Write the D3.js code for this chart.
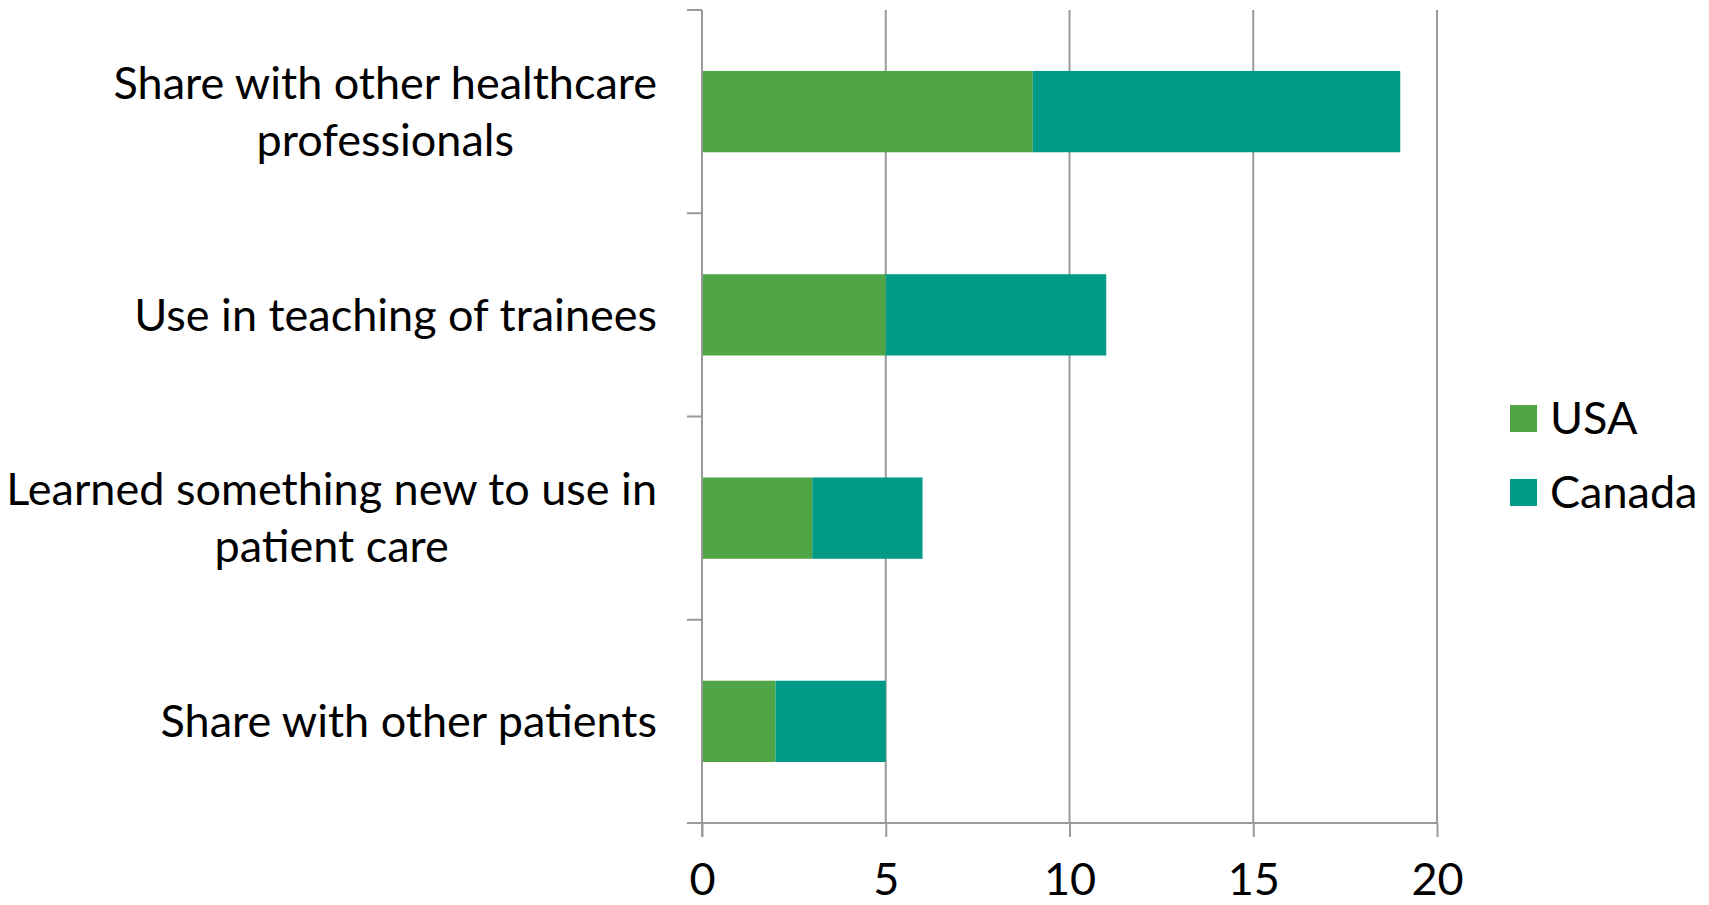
<!DOCTYPE html>
<html><head><meta charset="utf-8">
<script src="https://cdn.jsdelivr.net/npm/d3@7"></script>
<style>body{margin:0;background:#fff}svg{display:block}</style>
</head><body>
<svg id="chart" width="1709" height="905"></svg>
<script>
const categories = ["Share with other healthcare\nprofessionals", "Use in teaching of trainees", "Learned something new to use in\npatient care", "Share with other patients"];
const seriesNames = ["USA", "Canada"];
const usaValues = [9, 5, 3, 2];
const canadaValues = [10, 6, 3, 3];
const xTicks = [0, 5, 10, 15, 20];
const colors = ["#50a546", "#009a86"];

(function () {
const svg = d3.select("#chart");
const FONT = "Lato, 'Open Sans', sans-serif";
const FS = 45;
const pLeft = 702, pRight = 1437, pTop = 10, pBottom = 823;

const x = d3.scaleLinear().domain([0, 20]).range([pLeft, pRight]);
const y = d3.scaleBand().domain(categories).range([pTop, pBottom]).paddingInner(0.6).paddingOuter(0.3);
const yBand = d3.scaleBand().domain(categories).range([pTop, pBottom]);

const gridColor = "#9a9a9a";
svg.append("g").selectAll("line").data(xTicks.slice(1)).join("line")
  .attr("x1", d => x(d)).attr("x2", d => x(d)).attr("y1", pTop).attr("y2", pBottom)
  .attr("stroke", gridColor).attr("stroke-width", 2);

const rows = categories.map((c, i) => ({cat: c, USA: usaValues[i], Canada: canadaValues[i]}));
const stack = d3.stack().keys(seriesNames)(rows);
svg.append("g").selectAll("g").data(stack).join("g")
  .attr("fill", (d, i) => colors[i])
  .selectAll("rect").data(d => d).join("rect")
  .attr("x", d => x(d[0])).attr("width", d => x(d[1]) - x(d[0]))
  .attr("y", d => y(d.data.cat)).attr("height", y.bandwidth());

const xAxis = d3.axisBottom(x).tickValues(xTicks).tickSize(14).tickPadding(26).tickFormat(d3.format("d"));
const gx = svg.append("g").attr("transform", `translate(0,${pBottom})`).call(xAxis);
gx.select(".domain").attr("d", `M${pLeft-15},0H${pRight}`).attr("stroke", gridColor).attr("stroke-width", 2);
gx.selectAll(".tick line").attr("stroke", gridColor).attr("stroke-width", 2);
gx.selectAll(".tick text").attr("font-family", FONT).attr("font-size", FS).attr("fill", "#000");

const bounds = categories.map(c => yBand(c)).concat([pBottom]);
svg.append("line").attr("x1", pLeft).attr("x2", pLeft).attr("y1", pTop).attr("y2", pBottom + 14)
  .attr("stroke", gridColor).attr("stroke-width", 2);
svg.append("g").selectAll("line").data(bounds).join("line")
  .attr("x1", pLeft - 15).attr("x2", pLeft).attr("y1", d => d).attr("y2", d => d)
  .attr("stroke", gridColor).attr("stroke-width", 2);

const labelRight = 657, lineH = 57;
categories.forEach(c => {
  const lines = c.split("\n");
  const cy = yBand(c) + yBand.bandwidth() / 2;
  const t = svg.append("text").attr("font-family", FONT).attr("font-size", FS).attr("fill", "#000")
    .attr("text-anchor", "middle");
  const spans = lines.map((ln, i) => t.append("tspan").text(ln)
    .attr("y", cy + (i - (lines.length - 1) / 2) * lineH).attr("dy", "0.35em"));
  const maxW = d3.max(spans, s => s.node().getComputedTextLength());
  spans.forEach(s => s.attr("x", labelRight - maxW / 2));
});

const lg = svg.append("g").selectAll("g").data(seriesNames).join("g")
  .attr("transform", (d, i) => `translate(1510,${405 + i * 74})`);
lg.append("rect").attr("width", 27).attr("height", 27).attr("fill", (d, i) => colors[i]);
lg.append("text").attr("x", 40).attr("y", 13.5).attr("dy", "0.35em").text(d => d)
  .attr("font-family", FONT).attr("font-size", FS).attr("fill", "#000");
})();
</script>
</body></html>
